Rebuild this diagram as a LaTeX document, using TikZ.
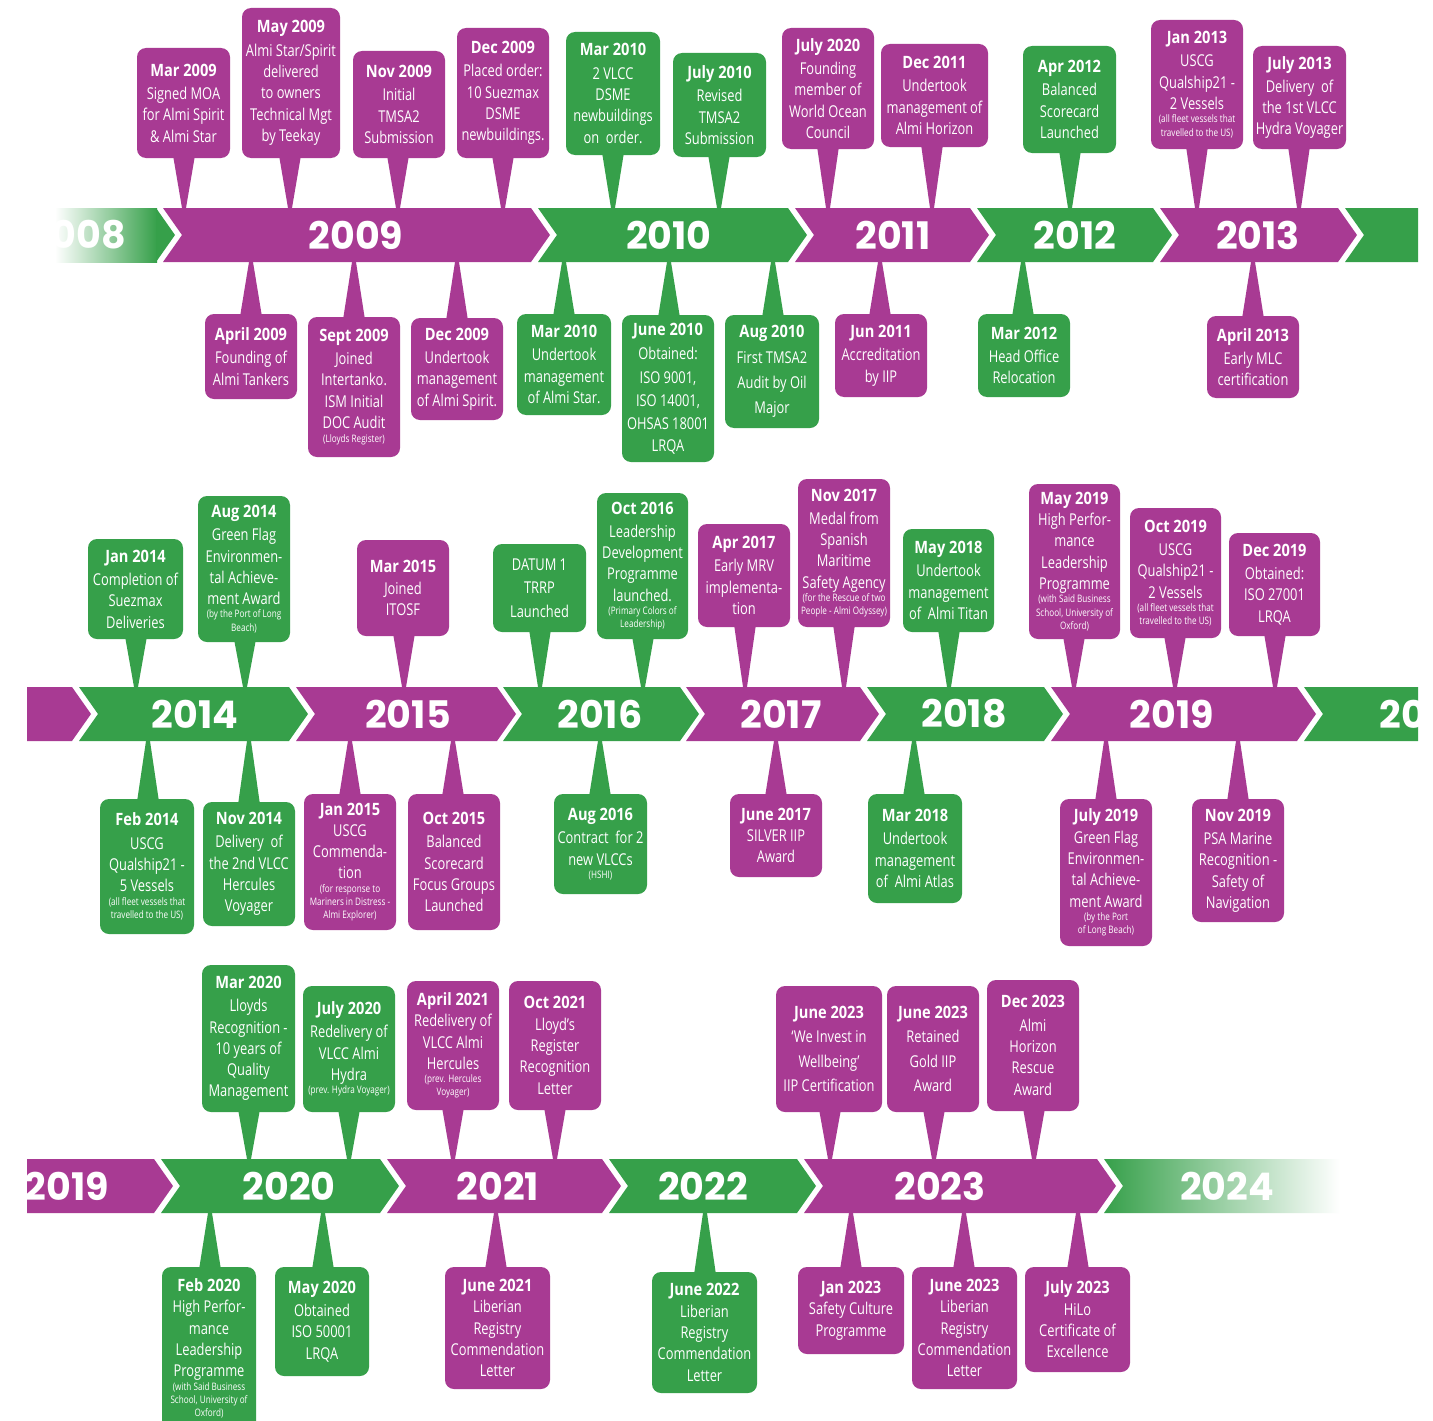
\documentclass[tikz,border=0pt]{standalone}
\usepackage{fontspec}
\setmainfont{Open Sans}[UprightFeatures={FakeStretch=0.79},BoldFeatures={FakeStretch=0.86}]
\newfontfamily\yearfont{Poppins}
\usetikzlibrary{calc}
\definecolor{purp}{RGB}{168,58,147}
\definecolor{grn}{RGB}{54,160,74}
\tikzset{
  evbox/.style={rounded corners=9pt, inner sep=0pt, text=white, align=center,
    font=\fontsize{16.3}{21.3}\selectfont},
  yr/.style={text=white, inner sep=0pt, font=\yearfont\bfseries\fontsize{38}{38}\selectfont},
}
\newcommand\dt[1]{{\bfseries\fontsize{17}{21}\selectfont #1}}
\newcommand\sm[1]{{\fontsize{10.3}{12}\selectfont #1}}
% event callout: name, colour, x1, y1, x2, y2, tip x, tip y, text
\newcommand\evt[9]{%
  \node[evbox, fill=#2, minimum width={#5-#3}, minimum height={#6-#4}] (#1) at ({(#3+#5)/2},{(#4+#6)/2}) {#9};
  \coordinate (#1t) at (#7,#8);
  \ifdim #8pt<#4pt
    \fill[#2] ($(#1.north -| #1t)+(-11,3)$) -- ($(#1.north -| #1t)+(11,3)$) -- ($(#1t)+(2,0)$) -- ($(#1t)+(-2,0)$) -- cycle;
  \else
    \fill[#2] ($(#1.south -| #1t)+(-11,-3)$) -- ($(#1.south -| #1t)+(11,-3)$) -- ($(#1t)+(2,0)$) -- ($(#1t)+(-2,0)$) -- cycle;
  \fi}
% chevron segment: name, colour, xL, xR, ytop, text x, year
\newcommand\seg[7]{%
  \fill[#2] (#3,#5) -- (#4,#5) -- ({#4+19},{#5+27}) -- (#4,{#5+54}) -- (#3,{#5+54}) -- ({#3+19},{#5+27}) -- cycle;
  \node[yr] (#1) at (#6,{#5+27}) {#7};}
\begin{document}
\begin{tikzpicture}[x=1pt,y=-1pt]
\useasboundingbox (0,0) rectangle (1433,1421);
\clip (0,0) rectangle (1433,1421);
\fill[white] (0,0) rectangle (1433,1421);
\begin{scope}
\clip (27,0) rectangle (1418,1421);
% ---- band 1
\shade[left color=white, right color=grn] (55,208) rectangle (157,262);
\fill[grn] (156,208) -- (175,235) -- (156,262) -- cycle;
\node[yr] (y2008) at (78,235) {2008};
\seg{y2009}{purp}{163}{531}{208}{356}{2009}
\seg{y2010}{grn}{538}{788}{208}{669}{2010}
\seg{y2011}{purp}{795}{970}{208}{893}{2011}
\seg{y2012}{grn}{977}{1153}{208}{1075}{2012}
\seg{y2013}{purp}{1160}{1338}{208}{1258}{2013}
\fill[grn] (1345,208) -- (1418,208) -- (1418,262) -- (1345,262) -- (1364,235) -- cycle;
% ---- band 2
\fill[purp] (27,687) -- (72,687) -- (91,714) -- (72,741) -- (27,741) -- cycle;
\seg{y2014}{grn}{79}{289}{687}{195}{2014}
\seg{y2015}{purp}{296}{497}{687}{408}{2015}
\seg{y2016}{grn}{503}{680}{687}{600}{2016}
\seg{y2017}{purp}{686}{860}{687}{781}{2017}
\seg{y2018}{grn}{867}{1044}{687}{964}{2018}
\seg{y2019}{purp}{1051}{1297}{687}{1172}{2019}
\fill[grn] (1304,687) -- (1418,687) -- (1418,741) -- (1304,741) -- (1323,714) -- cycle;
\node[yr] (y2020b) at (1426,714) {2020};
% ---- band 3
\fill[purp] (27,1159) -- (154,1159) -- (173,1186) -- (154,1213) -- (27,1213) -- cycle;
\node[yr] (y2019c) at (67,1186) {2019};
\seg{y2020}{grn}{161}{380}{1159}{289}{2020}
\seg{y2021}{purp}{387}{602}{1159}{498}{2021}
\seg{y2022}{grn}{609}{797}{1159}{703}{2022}
\seg{y2023}{purp}{804}{1097}{1159}{940}{2023}
\shade[left color=grn, right color=white] (1104,1159) -- (1340,1159) -- (1340,1213) -- (1104,1213) -- (1123,1186) -- cycle;
\node[yr] (y2024) at (1227,1186) {2024};
\end{scope}
% ===== band 1, above
\evt{e1}{purp}{137}{48}{230}{158}{184}{208}{\dt{Mar 2009}\\[2pt]Signed MOA\\for Almi Spirit\\\& Almi Star}
\evt{e2}{purp}{242}{8}{340}{158}{290}{208}{\dt{May 2009}\\[2pt]Almi Star/Spirit\\delivered\\to owners\\Technical Mgt\\by Teekay}
\evt{e3}{purp}{353}{51}{445}{158}{398}{208}{\dt{Nov 2009}\\[2pt]Initial\\TMSA2\\Submission}
\evt{e4}{purp}{457}{28}{549}{158}{503}{208}{\dt{Dec 2009}\\[2pt]Placed order:\\10 Suezmax\\DSME\\newbuildings.}
\evt{e5}{grn}{566}{32}{660}{155}{613}{208}{\dt{Mar 2010}\\[2pt]2 VLCC\\DSME\\newbuildings\\on\ \ order.}
\evt{e6}{grn}{673}{53}{766}{157}{719}{208}{\dt{July 2010}\\[2pt]Revised\\TMSA2\\Submission}
\evt{e7}{purp}{782}{28}{874}{149}{828}{208}{\dt{July 2020}\\[2pt]Founding\\member of\\World Ocean\\Council}
\evt{e8}{purp}{881}{44}{988}{147}{932}{208}{\dt{Dec 2011}\\[2pt]Undertook\\management of\\Almi Horizon}
\evt{e9}{grn}{1023}{46}{1116}{153}{1070}{208}{\dt{Apr 2012}\\[2pt]Balanced\\Scorecard\\Launched}
\evt{e10}{purp}{1151}{20}{1243}{149}{1197}{208}{\dt{Jan 2013}\\[2pt]USCG\\Qualship21 -\\2 Vessels\\[-8pt]\sm{(all fleet vessels that}\\[-8pt]\sm{travelled to the US)}}
\evt{e11}{purp}{1253}{46}{1346}{149}{1299}{208}{\dt{July 2013}\\[2pt]Delivery\ \ of\\the 1st VLCC\\Hydra Voyager}
% ===== band 1, below
\evt{e12}{purp}{205}{314}{297}{399}{251}{262}{\dt{April 2009}\\[2pt]Founding of\\Almi Tankers}
\evt{e13}{purp}{308}{317}{400}{457}{354}{262}{\dt{Sept 2009}\\[2pt]Joined\\Intertanko.\\ISM Initial\\DOC Audit\\[-7pt]\sm{(Lloyds Register)}}
\evt{e14}{purp}{411}{318}{503}{420}{457}{262}{\dt{Dec 2009}\\[2pt]Undertook\\management\\of Almi Spirit.}
\evt{e15}{grn}{517}{314}{611}{415}{564}{262}{\dt{Mar 2010}\\[2pt]Undertook\\management\\of Almi Star.}
\evt{e16}{grn}{622}{315}{714}{462}{669}{262}{\dt{June 2010}\\[3pt]Obtained:\\[2pt]ISO 9001,\\[2pt]ISO 14001,\\[2pt]OHSAS 18001\\LRQA}
\evt{e17}{grn}{725}{315}{819}{428}{773}{262}{\dt{Aug 2010}\\[4pt]First TMSA2\\[4pt]Audit by Oil\\[4pt]Major}
\evt{e18}{purp}{835}{314}{927}{397}{880}{262}{\dt{Jun 2011}\\[2pt]Accreditation\\by IIP}
\evt{e19}{grn}{978}{314}{1070}{397}{1023}{262}{\dt{Mar 2012}\\[2pt]Head Office\\Relocation}
\evt{e20}{purp}{1207}{316}{1299}{398}{1253}{262}{\dt{April 2013}\\[2pt]Early MLC\\certification}
% ===== band 2, above
\evt{e21}{grn}{88}{539}{183}{639}{136}{687}{\dt{Jan 2014}\\[2pt]Completion of\\Suezmax\\Deliveries}
\evt{e22}{grn}{198}{496}{290}{642}{245}{687}{\dt{Aug 2014}\\[2pt]Green Flag\\Environmen-\\tal Achieve-\\ment Award\\[-8pt]\sm{(by the Port of Long}\\[-8pt]\sm{Beach)}}
\evt{e23}{purp}{357}{540}{449}{636}{404}{687}{\dt{Mar 2015}\\Joined\\ITOSF}
\evt{e24}{grn}{493}{544}{586}{632}{540}{687}{DATUM 1\\[2pt]TRRP\\[2pt]Launched}
\evt{e25}{grn}{597}{493}{688}{639}{643}{687}{\dt{Oct 2016}\\[2pt]Leadership\\Development\\Programme\\launched.\\[-8pt]\sm{(Primary Colors of}\\[-8pt]\sm{Leadership)}}
\evt{e26}{purp}{698}{524}{790}{627}{745}{687}{\dt{Apr 2017}\\[2pt]Early MRV\\implementa-\\tion}
\evt{e27}{purp}{798}{479}{890}{627}{844}{687}{\dt{Nov 2017}\\[2pt]Medal from\\Spanish\\Maritime\\Safety Agency\\[-8pt]\sm{(for the Rescue of two}\\[-8pt]\sm{People - Almi Odyssey)}}
\evt{e28}{grn}{903}{529}{994}{632}{949}{687}{\dt{May 2018}\\[2pt]Undertook\\management\\of\ \ Almi Titan}
\evt{e29}{purp}{1029}{484}{1120}{639}{1074}{687}{\dt{May 2019}\\High Perfor-\\mance\\Leadership\\Programme\\[-8pt]\sm{(with Said Business}\\[-8pt]\sm{School, University of}\\[-8pt]\sm{Oxford)}}
\evt{e30}{purp}{1130}{508}{1221}{638}{1175}{687}{\dt{Oct 2019}\\[2pt]USCG\\Qualship21 -\\2 Vessels\\[-8pt]\sm{(all fleet vessels that}\\[-8pt]\sm{travelled to the US)}}
\evt{e31}{purp}{1229}{533}{1320}{636}{1275}{687}{\dt{Dec 2019}\\[2pt]Obtained:\\ISO 27001\\LRQA}
% ===== band 2, below
\evt{e32}{grn}{100}{799}{194}{934}{148}{741}{\dt{Feb 2014}\\[2pt]USCG\\Qualship21 -\\5 Vessels\\[-8pt]\sm{(all fleet vessels that}\\[-8pt]\sm{travelled to the US)}}
\evt{e33}{grn}{203}{802}{295}{926}{249}{741}{\dt{Nov 2014}\\[2pt]Delivery\ \ of\\the 2nd VLCC\\Hercules\\Voyager}
\evt{e34}{purp}{304}{794}{396}{930}{350}{741}{\dt{Jan 2015}\\USCG\\Commenda-\\tion\\[-8pt]\sm{(for response to}\\[-8pt]\sm{Mariners in Distress -}\\[-8pt]\sm{Almi Explorer)}}
\evt{e35}{purp}{408}{794}{500}{930}{453}{741}{\dt{Oct 2015}\\[2pt]Balanced\\Scorecard\\Focus Groups\\Launched}
\evt{e36}{grn}{554}{794}{647}{894}{600}{741}{\dt{Aug 2016}\\[2pt]Contract\ \ for 2\\new VLCCs\\[-8pt]\sm{(HSHI)}}
\evt{e37}{purp}{730}{794}{822}{877}{776}{741}{\dt{June 2017}\\SILVER IIP\\Award}
\evt{e38}{grn}{868}{794}{962}{903}{914}{741}{\dt{Mar 2018}\\[2pt]Undertook\\management\\of\ \ Almi Atlas}
\evt{e39}{purp}{1060}{799}{1152}{946}{1106}{741}{\dt{July 2019}\\Green Flag\\Environmen-\\tal Achieve-\\ment Award\\[-8pt]\sm{(by the Port}\\[-8pt]\sm{of Long Beach)}}
\evt{e40}{purp}{1192}{799}{1284}{922}{1238}{741}{\dt{Nov 2019}\\[2pt]PSA Marine\\Recognition -\\Safety of\\Navigation}
% ===== band 3, above
\evt{e41}{grn}{202}{965}{295}{1112}{249}{1159}{\dt{Mar 2020}\\[2pt]Lloyds\\Recognition -\\10 years of\\Quality\\Management}
\evt{e42}{grn}{303}{986}{395}{1112}{349}{1159}{\dt{July 2020}\\[2pt]Redelivery of\\VLCC Almi\\Hydra\\[-8pt]\sm{(prev. Hydra Voyager)}}
\evt{e43}{purp}{407}{981}{499}{1110}{453}{1159}{\dt{April 2021}\\Redelivery of\\VLCC Almi\\Hercules\\[-8pt]\sm{(prev. Hercules}\\[-8pt]\sm{Voyager)}}
\evt{e44}{purp}{509}{981}{601}{1110}{555}{1159}{\dt{Oct 2021}\\Lloyd's\\Register\\Recognition\\Letter}
\evt{e45}{purp}{776}{986}{882}{1112}{830}{1159}{\dt{June 2023}\\[3pt]‘We Invest in\\[3pt]Wellbeing’\\[3pt]IIP Certification}
\evt{e46}{purp}{887}{986}{979}{1112}{934}{1159}{\dt{June 2023}\\[3pt]Retained\\[3pt]Gold IIP\\[3pt]Award}
\evt{e47}{purp}{987}{980}{1079}{1111}{1034}{1159}{\dt{Dec 2023}\\[2pt]Almi\\Horizon\\Rescue\\Award}
% ===== band 3, below
\evt{e48}{grn}{162}{1267}{256}{1430}{210}{1213}{\dt{Feb 2020}\\High Perfor-\\mance\\Leadership\\Programme\\[-8pt]\sm{(with Said Business}\\[-8pt]\sm{School, University of}\\[-8pt]\sm{Oxford)}}
\evt{e49}{grn}{275}{1267}{369}{1376}{323}{1213}{\dt{May 2020}\\[2pt]Obtained\\ISO 50001\\LRQA}
\evt{e50}{purp}{445}{1267}{550}{1389}{496}{1213}{\dt{June 2021}\\Liberian\\Registry\\Commendation\\Letter}
\evt{e51}{grn}{652}{1272}{757}{1393}{705}{1213}{\dt{June 2022}\\Liberian\\Registry\\Commendation\\Letter}
\evt{e52}{purp}{798}{1267}{904}{1354}{851}{1213}{\dt{Jan 2023}\\Safety Culture\\Programme}
\evt{e53}{purp}{912}{1267}{1017}{1389}{964}{1213}{\dt{June 2023}\\Liberian\\Registry\\Commendation\\Letter}
\evt{e54}{purp}{1025}{1267}{1130}{1372}{1078}{1213}{\dt{July 2023}\\HiLo\\Certificate of\\Excellence}
\end{tikzpicture}
\end{document}
